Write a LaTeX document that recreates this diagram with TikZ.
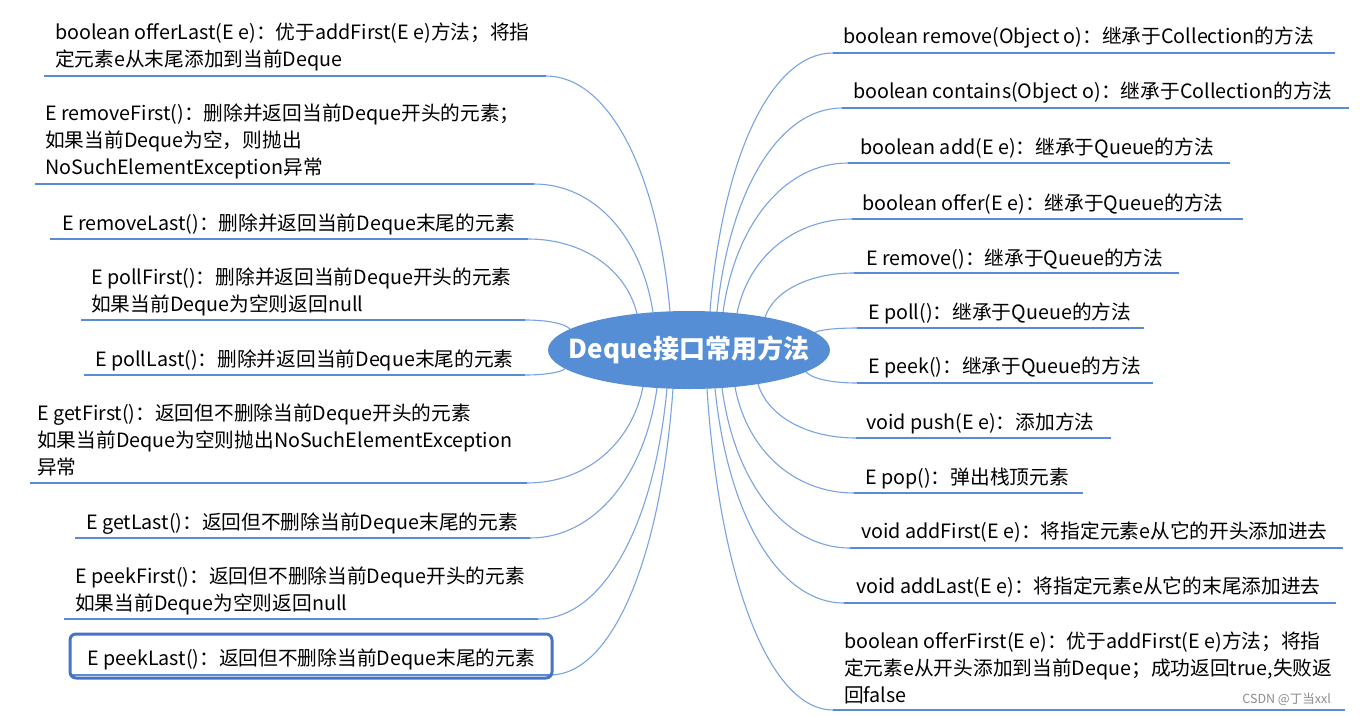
\documentclass[tikz,border=0pt]{standalone}
\usepackage{fontspec}
\setmainfont{Noto Sans CJK SC}
\usetikzlibrary{calc,backgrounds,shapes.geometric}
\definecolor{ellfill}{RGB}{85,142,213}
\definecolor{ulcol}{RGB}{88,140,214}
\definecolor{conncol}{RGB}{122,164,225}
\definecolor{selcol}{RGB}{72,114,198}
\tikzset{
  lbl/.style={anchor=north west,inner sep=0pt,align=left,text=black,font=\fontsize{19.7}{27.3}\selectfont},
  uline/.style={draw=ulcol,line width=2.8pt},
  conn/.style={draw=conncol,line width=1.1pt},
}
\newcommand\conn[2]{%
  \begin{pgfonlayer}{background}
  \draw[conn] let \p1=(#1), \p2=(#2) in (#1) .. controls ({\x1+0.1*(\x2-\x1)},{\y1+0.6*(\y2-\y1)}) and ({\x1+0.5*(\x2-\x1)},{\y2}) .. (#2);
  \end{pgfonlayer}}
% name, text x, top y, text, ul y, ul x0, ul x1, attach x, attach y
\newcommand\brL[9]{%
  \node[lbl] (#1) at (#2,#3) {#4};
  \coordinate (#1a) at (#6,#5);
  \coordinate (#1b) at (#7,#5);
  \coordinate (#1e) at (#8,#9);
  \draw[uline] (#1a) -- (#1b);
  \conn{#1e}{#1b}}
\newcommand\brR[9]{%
  \node[lbl] (#1) at (#2,#3) {#4};
  \coordinate (#1a) at (#6,#5);
  \coordinate (#1b) at (#7,#5);
  \coordinate (#1e) at (#8,#9);
  \draw[uline] (#1a) -- (#1b);
  \conn{#1e}{#1a}}
\begin{document}
\begin{tikzpicture}[x=1pt,y=-1pt]
\begin{pgfonlayer}{background}
\fill[white] (0,0) rectangle (1363,715);
\end{pgfonlayer}
\useasboundingbox (0,0) rectangle (1363,715);

\node[ellipse,fill=ellfill,minimum width=282pt,minimum height=78pt,inner sep=0pt,
      text=white,font=\fontsize{26}{30}\selectfont\bfseries] (E) at (689,350) {\makebox[0pt]{Deque接口常用方法}};

% left side
\brL{L1}{55}{22.4}{boolean offerLast(E e)：优于addFirst(E e)方法；将指\\定元素e从末尾添加到当前Deque}{76}{44}{546}{670}{311.4}
\brL{L2}{45}{103.4}{E removeFirst()：删除并返回当前Deque开头的元素；\\如果当前Deque为空，则抛出\\NoSuchElementException异常}{184}{35}{534}{653}{312.3}
\brL{L3}{62}{213.4}{E removeLast()：删除并返回当前Deque末尾的元素}{239}{50}{528}{637}{313.7}
\brL{L4}{91}{267.4}{E pollFirst()：删除并返回当前Deque开头的元素\\如果当前Deque为空则返回null}{320}{81}{525}{570}{329.1}
\brL{L5}{95}{349.4}{E pollLast()：删除并返回当前Deque末尾的元素}{375}{84}{525}{565}{368.6}
\brL{L6}{37}{403.4}{E getFirst()：返回但不删除当前Deque开头的元素\\如果当前Deque为空则抛出NoSuchElementException\\异常}{483}{30}{527}{643}{386.9}
\brL{L7}{86}{512.4}{E getLast()：返回但不删除当前Deque末尾的元素}{538}{75}{530}{657}{388}
\brL{L8}{75}{566.4}{E peekFirst()：返回但不删除当前Deque开头的元素\\如果当前Deque为空则返回null}{619}{64}{538}{667}{388.5}
\brL{L9}{87}{648.4}{E peekLast()：返回但不删除当前Deque末尾的元素}{675}{72}{550}{673}{388.7}
\coordinate (L9s) at (70,634);
\coordinate (L9t) at (552,678);
\draw[draw=selcol,line width=3pt,rounded corners=6pt] (L9s) rectangle (L9t);

% right side
\brR{R1}{843}{26.4}{boolean remove(Object o)：继承于Collection的方法}{53}{833}{1335}{710}{311.4}
\brR{R2}{853}{81.4}{boolean contains(Object o)：继承于Collection的方法}{108}{842}{1349}{717}{311.8}
\brR{R3}{860}{137.4}{boolean add(E e)：继承于Queue的方法}{163}{848}{1230}{723}{312.2}
\brR{R4}{862}{193.4}{boolean offer(E e)：继承于Queue的方法}{219}{852}{1243}{737}{313.3}
\brR{R5}{866}{248.4}{E remove()：继承于Queue的方法}{273}{854}{1179}{765}{317.2}
\brR{R6}{868}{302.4}{E poll()：继承于Queue的方法}{328}{857}{1144}{815}{332.5}
\brR{R7}{868}{356.4}{E peek()：继承于Queue的方法}{383}{857}{1153}{806}{371.8}
\brR{R8}{866}{412.4}{void push(E e)：添加方法}{438}{856}{1111}{758}{384}
\brR{R9}{865}{467.4}{E pop()：弹出栈顶元素}{493}{854}{1083}{735}{386.9}
\brR{R10}{861}{521.4}{void addFirst(E e)：将指定元素e从它的开头添加进去}{548}{850}{1343}{722}{387.9}
\brR{R11}{856}{576.4}{void addLast(E e)：将指定元素e从它的末尾添加进去}{603}{844}{1336}{715}{388.3}
\brR{R12}{844}{631.4}{boolean offerFirst(E e)：优于addFirst(E e)方法；将指\\定元素e从开头添加到当前Deque；成功返回true,失败返\\回false}{710}{833}{1345}{707}{388.7}

\node[anchor=east,inner sep=0pt,text=black!45,font=\fontsize{12.5}{14}\selectfont] (wm) at (1331,699) {CSDN @丁当xxl};
\end{tikzpicture}
\end{document}
